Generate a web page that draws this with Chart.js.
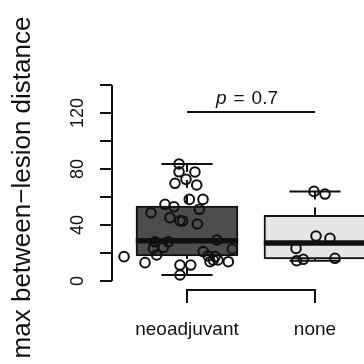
<!DOCTYPE html>
<html><head><meta charset="utf-8">
<script src="https://cdn.jsdelivr.net/npm/chart.js@4/dist/chart.umd.min.js"></script>
<style>html,body{margin:0;padding:0;background:#fff}canvas{display:block}</style>
</head><body>
<canvas id="c" width="364" height="364"></canvas>
<script>
// ---- data ----
const categories = ['neoadjuvant', 'none'];
const neoValues = [83.6, 78, 77.9, 72.6, 69.8, 68.6, 58.3, 58.3, 54.8, 53, 51.2, 48.8, 45.2, 43, 42.9, 40.7,
  28, 28, 29.3, 23.3, 24, 21, 17.9, 15, 13.8, 18.6, 22.9, 13.8, 17.4, 13.1, 11.4, 11.4, 4.3, 17.4, 15];
const neoJitter = [-0.062, -0.062, 0.062, -0.008, -0.094, 0.076, 0.018, 0.125, -0.172, -0.102, 0.096, -0.281, -0.133, -0.055, -0.034, 0.081,
  -0.25, -0.146, 0.232, -0.263, -0.185, 0.127, 0.166, 0.205, 0.18, -0.237, 0.354, 0.323, -0.492, -0.328, -0.055, 0.029, -0.055, 0.219, 0.242];
const noneValues = [64, 62.1, 32.1, 30.5, 23.3, 14.5, 15.5, 16.2];
const noneJitter = [-0.008, 0.078, 0.008, 0.117, -0.148, -0.143, -0.091, 0.156];
const boxQ1 = [17.9, 15.8];
const boxMedian = [28.8, 27.2];
const boxQ3 = [53.6, 46.9];
const whiskerLow = [4.3, 14.5];
const whiskerHigh = [83.6, 64];
const yTickValues = [0, 20, 40, 60, 80, 100, 120, 140];
const yLabelValues = [0, 40, 80, 120];
const pValueText = '0.7';
const yTitle = 'max between\u2212lesion distance';

// ---- styles ----
const INK = '#111';
const FONT = '"Liberation Sans", Arial, sans-serif';
const boxFills = ['#4d4d4d', '#e5e5e5'];

const boxPlugin = {
  id: 'boxparts',
  afterDatasetDraw(chart, args) {
    if (args.index !== 0) return;
    const {ctx, scales: {x, y}} = chart;
    ctx.save();
    ctx.strokeStyle = INK;
    categories.forEach((c, i) => {
      const cx = x.getPixelForValue(i + 1);
      ctx.lineWidth = 2;
      ctx.lineCap = 'butt';
      ctx.setLineDash([8, 8]);
      ctx.beginPath(); ctx.moveTo(cx, y.getPixelForValue(whiskerHigh[i])); ctx.lineTo(cx, y.getPixelForValue(boxQ3[i])); ctx.stroke();
      ctx.beginPath(); ctx.moveTo(cx, y.getPixelForValue(whiskerLow[i])); ctx.lineTo(cx, y.getPixelForValue(boxQ1[i])); ctx.stroke();
      ctx.setLineDash([]);
      [whiskerLow[i], whiskerHigh[i]].forEach(v => {
        const py = y.getPixelForValue(v);
        ctx.beginPath(); ctx.moveTo(x.getPixelForValue(i + 1 - 0.2), py); ctx.lineTo(x.getPixelForValue(i + 1 + 0.2), py); ctx.stroke();
      });
      ctx.lineWidth = 5.5;
      const my = y.getPixelForValue(boxMedian[i]);
      ctx.beginPath(); ctx.moveTo(x.getPixelForValue(i + 1 - 0.4), my); ctx.lineTo(x.getPixelForValue(i + 1 + 0.4), my); ctx.stroke();
    });
    ctx.restore();
  },
  afterDraw(chart) {
    const {ctx, scales: {x, y}, chartArea} = chart;
    ctx.save();
    ctx.strokeStyle = INK; ctx.fillStyle = INK; ctx.lineWidth = 2;
    // y axis line from first to last tick
    ctx.beginPath();
    ctx.moveTo(chartArea.left, y.getPixelForValue(yTickValues[0]));
    ctx.lineTo(chartArea.left, y.getPixelForValue(yTickValues[yTickValues.length - 1]));
    ctx.stroke();
    // y tick labels (parallel to axis)
    ctx.font = '18px ' + FONT;
    ctx.textAlign = 'center'; ctx.textBaseline = 'alphabetic';
    yLabelValues.forEach(v => {
      ctx.save();
      ctx.translate(chartArea.left - 29, y.getPixelForValue(v));
      ctx.rotate(-Math.PI / 2);
      ctx.fillText(String(v), 0, 0);
      ctx.restore();
    });
    // x axis line between groups
    ctx.lineCap = 'square';
    ctx.beginPath();
    ctx.moveTo(x.getPixelForValue(1), chartArea.bottom);
    ctx.lineTo(x.getPixelForValue(2), chartArea.bottom);
    ctx.stroke();
    // p-value bracket
    ctx.lineCap = 'butt';
    const by = y.getPixelForValue(120.7);
    ctx.beginPath(); ctx.moveTo(x.getPixelForValue(1), by); ctx.lineTo(x.getPixelForValue(2), by); ctx.stroke();
    const ty = y.getPixelForValue(126.4);
    ctx.textAlign = 'left';
    ctx.font = 'italic 19px ' + FONT; const wp = ctx.measureText('p').width;
    ctx.font = '19px ' + FONT; const weq = ctx.measureText('=').width; const wn = ctx.measureText(pValueText).width;
    const gap = 7;
    const total = wp + gap + weq + gap + wn;
    let sx = x.getPixelForValue(1.5) - 4 - total / 2;
    ctx.font = 'italic 19px ' + FONT; ctx.fillText('p', sx, ty); sx += wp + gap;
    ctx.font = '19px ' + FONT; ctx.fillText('=', sx, ty); sx += weq + gap;
    ctx.fillText(pValueText, sx, ty);
    ctx.restore();
  }
};

const pointStyle = {
  type: 'scatter', order: 1,
  pointRadius: 4.8, pointHoverRadius: 4.8, pointBorderWidth: 2,
  pointBorderColor: INK, pointBackgroundColor: 'rgba(0,0,0,0)', showLine: false
};

new Chart(document.getElementById('c'), {
  type: 'scatter',
  data: {
    datasets: [
      {
        type: 'bar', order: 2,
        data: categories.map((c, i) => ({x: i + 1, y: [boxQ1[i], boxQ3[i]]})),
        backgroundColor: boxFills, borderColor: INK, borderWidth: 2, borderSkipped: false,
        barThickness: 102, grouped: false
      },
      Object.assign({data: neoValues.map((v, i) => ({x: 1 + neoJitter[i], y: v}))}, pointStyle),
      Object.assign({data: noneValues.map((v, i) => ({x: 2 + noneJitter[i], y: v}))}, pointStyle)
    ]
  },
  options: {
    responsive: false, animation: false, devicePixelRatio: 1,
    layout: {autoPadding: false, padding: {top: 85, right: 0, bottom: 0, left: 0}},
    plugins: {legend: {display: false}, tooltip: {enabled: false}},
    scales: {
      x: {
        type: 'linear', min: 0.414, max: 2.383, offset: false,
        afterBuildTicks: s => { s.ticks = categories.map((c, i) => ({value: i + 1})); },
        afterFit: s => { s.height = 74; s.paddingLeft = 0; s.paddingRight = 0; },
        border: {display: false},
        grid: {display: true, offset: false, drawOnChartArea: false, drawTicks: true, tickLength: 13, color: INK, lineWidth: 2},
        ticks: {
          padding: 15, color: INK, font: {family: FONT, size: 19}, maxRotation: 0, autoSkip: false,
          callback: v => categories[Math.round(v) - 1]
        }
      },
      y: {
        type: 'linear', min: -6.43, max: 140,
        afterBuildTicks: s => { s.ticks = yTickValues.map(v => ({value: v})); },
        afterFit: s => { s.width = 112; s.paddingTop = 0; s.paddingBottom = 0; },
        border: {display: false},
        grid: {display: true, drawOnChartArea: false, drawTicks: true, tickLength: 12, color: INK, lineWidth: 2},
        ticks: {display: false},
        title: {display: true, text: yTitle, color: INK, font: {family: FONT, size: 26}, padding: {top: 7, bottom: 0}}
      }
    }
  },
  plugins: [boxPlugin]
});
</script>
</body></html>
